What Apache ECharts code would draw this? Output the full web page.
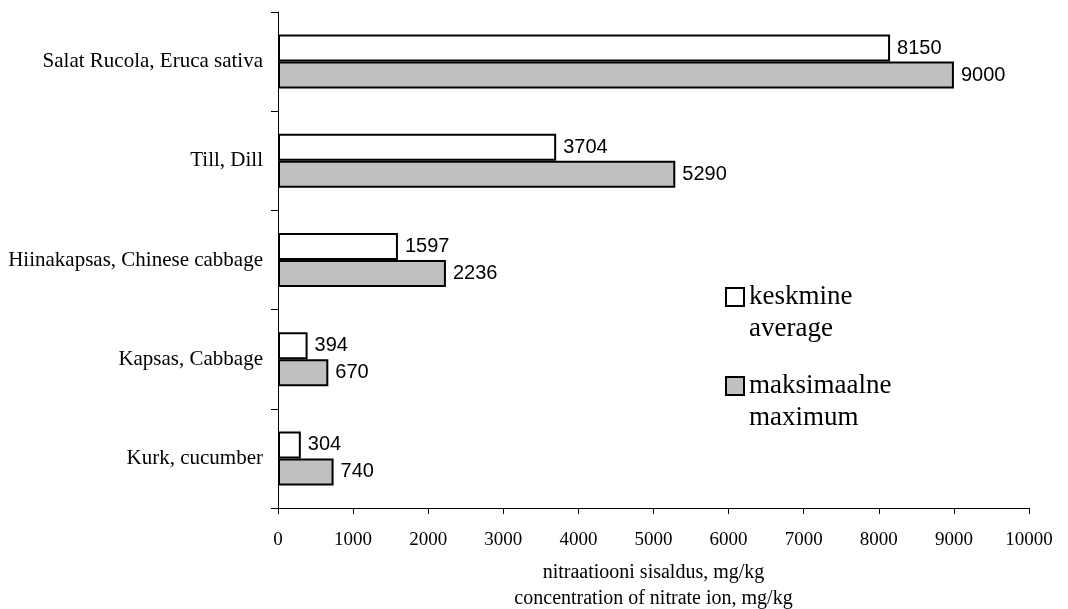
<!DOCTYPE html>
<html>
<head>
<meta charset="utf-8">
<script src="https://cdn.jsdelivr.net/npm/echarts@6/dist/echarts.min.js"></script>
<style>
html,body{margin:0;padding:0;background:#fff;}
#chart{width:1068px;height:609px;}
</style>
</head>
<body>
<div id="chart"></div>
<script>
var categories = ['Salat Rucola, Eruca sativa', 'Till, Dill', 'Hiinakapsas, Chinese cabbage', 'Kapsas, Cabbage', 'Kurk, cucumber'];
var averageValues = [8150, 3704, 1597, 394, 304];
var maximumValues = [9000, 5290, 2236, 670, 740];
var seriesNames = ['keskmine\naverage', 'maksimaalne\nmaximum'];
var xAxisName = 'nitraatiooni sisaldus, mg/kg\nconcentration of nitrate ion, mg/kg';

var serif = '"Liberation Serif", "Times New Roman", serif';
var sans = '"Liberation Sans", Arial, sans-serif';

var chart = echarts.init(document.getElementById('chart'), null, {renderer: 'canvas'});

var labelStyle = {
  show: true,
  position: 'right',
  distance: 7,
  color: '#000',
  fontFamily: sans,
  fontSize: 20
};

var legendText = {
  color: '#000',
  fontFamily: serif,
  fontSize: 27,
  lineHeight: 32
};

function legendOf(name, top) {
  return {
    data: [name],
    orient: 'vertical',
    left: 725,
    top: top,
    padding: 0,
    icon: 'rect',
    itemWidth: 18,
    itemHeight: 18,
    itemGap: 5,
    selectedMode: false,
    itemStyle: {borderColor: '#000', borderWidth: 2},
    textStyle: legendText,
    formatter: function (n) { return '\n' + n; }
  };
}

chart.setOption({
  animation: false,
  backgroundColor: '#fff',
  grid: {left: 278, right: 39, top: 12, bottom: 101, containLabel: false, outerBoundsMode: 'none'},
  legend: [legendOf(seriesNames[0], 249), legendOf(seriesNames[1], 338)],
  xAxis: {
    type: 'value',
    min: 0,
    max: 10000,
    interval: 1000,
    name: xAxisName,
    nameLocation: 'middle',
    nameGap: 52,
    nameTextStyle: {color: '#000', fontFamily: serif, fontSize: 20, lineHeight: 26},
    axisLine: {show: true, lineStyle: {color: '#000', width: 1}},
    axisTick: {show: true, length: 6, lineStyle: {color: '#000'}},
    axisLabel: {color: '#000', fontFamily: serif, fontSize: 19, margin: 23,
      formatter: function (v) { return String(v); }},
    splitLine: {show: false}
  },
  yAxis: {
    type: 'category',
    data: categories,
    inverse: true,
    axisLine: {show: true, lineStyle: {color: '#000', width: 1}},
    axisTick: {show: true, length: 7, lineStyle: {color: '#000'}},
    axisLabel: {color: '#000', fontFamily: serif, fontSize: 21, margin: 15},
    splitLine: {show: false}
  },
  series: [
    {
      name: seriesNames[0],
      type: 'bar',
      data: averageValues,
      barWidth: 27,
      barGap: '0%',
      itemStyle: {color: '#ffffff', borderColor: '#000', borderWidth: 2},
      label: labelStyle
    },
    {
      name: seriesNames[1],
      type: 'bar',
      data: maximumValues,
      barWidth: 27,
      barGap: '0%',
      itemStyle: {color: '#c0c0c0', borderColor: '#000', borderWidth: 2},
      label: labelStyle
    }
  ]
});
</script>
</body>
</html>
